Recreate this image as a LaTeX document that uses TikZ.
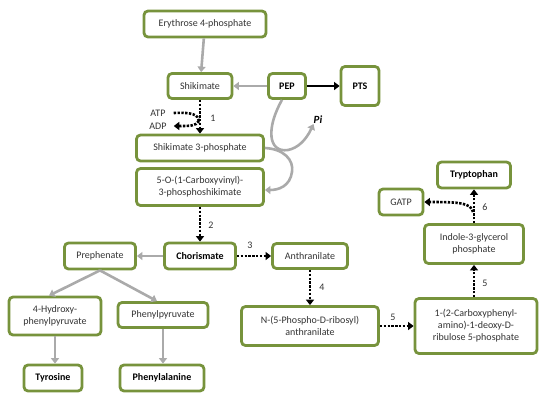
\documentclass[tikz,border=0pt]{standalone}
\usepackage{fontspec}
\setmainfont{Carlito}
\usepackage{xcolor}
\usepackage{tikz}
\usetikzlibrary{arrows.meta}
\definecolor{olivegreen}{HTML}{77933C}
\definecolor{arrowgray}{HTML}{AAAAAA}
\definecolor{textgray}{HTML}{333333}
\tikzset{
  metab/.style={draw=olivegreen,line width=2.8pt,rounded corners=4pt,fill=white,
    align=center,inner sep=1pt,text=textgray,font=\fontsize{10}{12}\selectfont},
  keymetab/.style={metab,font=\fontsize{10}{12}\selectfont\bfseries,text=black},
  grayarr/.style={draw=arrowgray,line width=2.6pt,-{Triangle[length=5.5pt,width=8pt]}},
  blackarr/.style={draw=black,line width=2.4pt,-{Triangle[length=5.5pt,width=8pt]}},
  dotarr/.style={draw=black,line width=2.6pt,dash pattern=on 2.4pt off 1.4pt,
    -{Triangle[length=5.5pt,width=8pt]}},
  steplabel/.style={text=textgray,font=\fontsize{10}{12}\selectfont,inner sep=0pt}
}
\begin{document}
\begin{tikzpicture}[x=1pt,y=-1pt]
        \useasboundingbox (0,0) rectangle (550,402);
        % shikimate branch
        \node[metab,minimum width=122pt,minimum height=26pt] (e4p) at (205,24) {Erythrose 4-phosphate};
        \node[metab,minimum width=64pt,minimum height=25pt] (shik) at (200,86) {Shikimate};
        \node[keymetab,minimum width=37pt,minimum height=25pt] (pep) at (287,86) {PEP};
        \node[keymetab,minimum width=38pt,minimum height=39pt] (pts) at (360,86) {PTS};
        \node[metab,minimum width=127pt,minimum height=26pt] (s3p) at (200,148) {Shikimate 3-phosphate};
        \node[metab,minimum width=127pt,minimum height=37pt] (epsp) at (200,187)
              {5-O-(1-Carboxyvinyl)-\\3-phosphoshikimate};
        \node[keymetab,minimum width=71pt,minimum height=26pt] (chor) at (200,256) {Chorismate};
        % phenylalanine / tyrosine
        \node[metab,minimum width=71pt,minimum height=26pt] (preph) at (100,256) {Prephenate};
        \node[metab,minimum width=92pt,minimum height=38pt] (hpp) at (55,316) {4-Hydroxy-\\phenylpyruvate};
        \node[metab,minimum width=90pt,minimum height=25pt] (ppy) at (163,315) {Phenylpyruvate};
        \node[keymetab,minimum width=58pt,minimum height=26pt] (tyr) at (53,378) {Tyrosine};
        \node[keymetab,minimum width=84pt,minimum height=26pt] (phe) at (162,378) {Phenylalanine};
        % tryptophan
        \node[metab,minimum width=75pt,minimum height=25pt] (anth) at (310,256) {Anthranilate};
        \node[metab,minimum width=137pt,minimum height=39pt] (pra) at (310,326)
              {N-(5-Phospho-D-ribosyl)\\anthranilate};
        \node[metab,minimum width=122pt,minimum height=55pt] (cdrp) at (476,326)
              {1-(2-Carboxyphenyl-\\amino)-1-deoxy-D-\\ribulose 5-phosphate};
        \node[metab,minimum width=99pt,minimum height=39pt] (igp) at (474,244)
              {Indole-3-glycerol\\phosphate};
        \node[keymetab,minimum width=73pt,minimum height=26pt] (trp) at (474,175) {Tryptophan};
        \node[metab,minimum width=44pt,minimum height=26pt] (gatp) at (401,202) {GATP};
        % side metabolites
        \node[steplabel] (atp) at (158,113) {ATP};
        \node[steplabel] (adp) at (158,126) {ADP};
        \node[font=\fontsize{11}{12}\selectfont\bfseries\itshape,inner sep=0pt] (pi) at (318,120) {Pi};
        % gray arrows
        \draw[grayarr] (e4p) -- (shik);
        \draw[grayarr] (pep) -- (shik);
        \draw[grayarr] (chor) -- (preph);
        \draw[grayarr] (preph.south) -- ([xshift=-6pt]hpp.north);
        \draw[grayarr] (preph.south) -- ([xshift=-6pt]ppy.north);
        \draw[grayarr] (hpp) -- (hpp |- tyr.north);
        \draw[grayarr] (ppy) -- (ppy |- phe.north);
        \draw[grayarr] ([xshift=-5pt]pep.south) .. controls (266,128) and (268,153) .. (288,150)
              .. controls (298,148) and (306,140) .. (pi.south west);
        \draw[grayarr] (s3p.east) .. controls (284,149) and (294,160) .. (292,172)
              .. controls (290,186) and (279,190) .. ([yshift=-3pt]epsp.east);
        % PTS
        \draw[blackarr] (pep) -- (pts);
        % enzymatic steps
        \coordinate (m1) at (199,121);
        \draw[dotarr] (shik) -- (s3p);
        \draw[dotarr,-] ([xshift=8pt]atp.east) .. controls (193,112) and (198,115) .. (m1);
        \draw[dotarr] (m1) .. controls (196,126) and (190,126) .. ([xshift=7pt]adp.east);
        \node[steplabel] at (213,118) {1};
        \draw[dotarr] (epsp) -- (chor);
        \node[steplabel] at (211,225) {2};
        \draw[dotarr] (chor) -- (anth);
        \node[steplabel] at (250,245) {3};
        \draw[dotarr] (anth) -- (pra);
        \node[steplabel] at (322,287) {4};
        \draw[dotarr] (pra) -- (cdrp);
        \node[steplabel] at (393,317) {5};
        \draw[dotarr] (cdrp.north -| igp) -- (igp);
        \node[steplabel] at (485,283) {5};
        \coordinate (m6) at (473,212);
        \draw[dotarr] (igp) -- (trp);
        \draw[dotarr] (m6) .. controls (471,203) and (460,202) .. (gatp.east);
        \node[steplabel] at (485,207) {6};
      \end{tikzpicture}
\end{document}
